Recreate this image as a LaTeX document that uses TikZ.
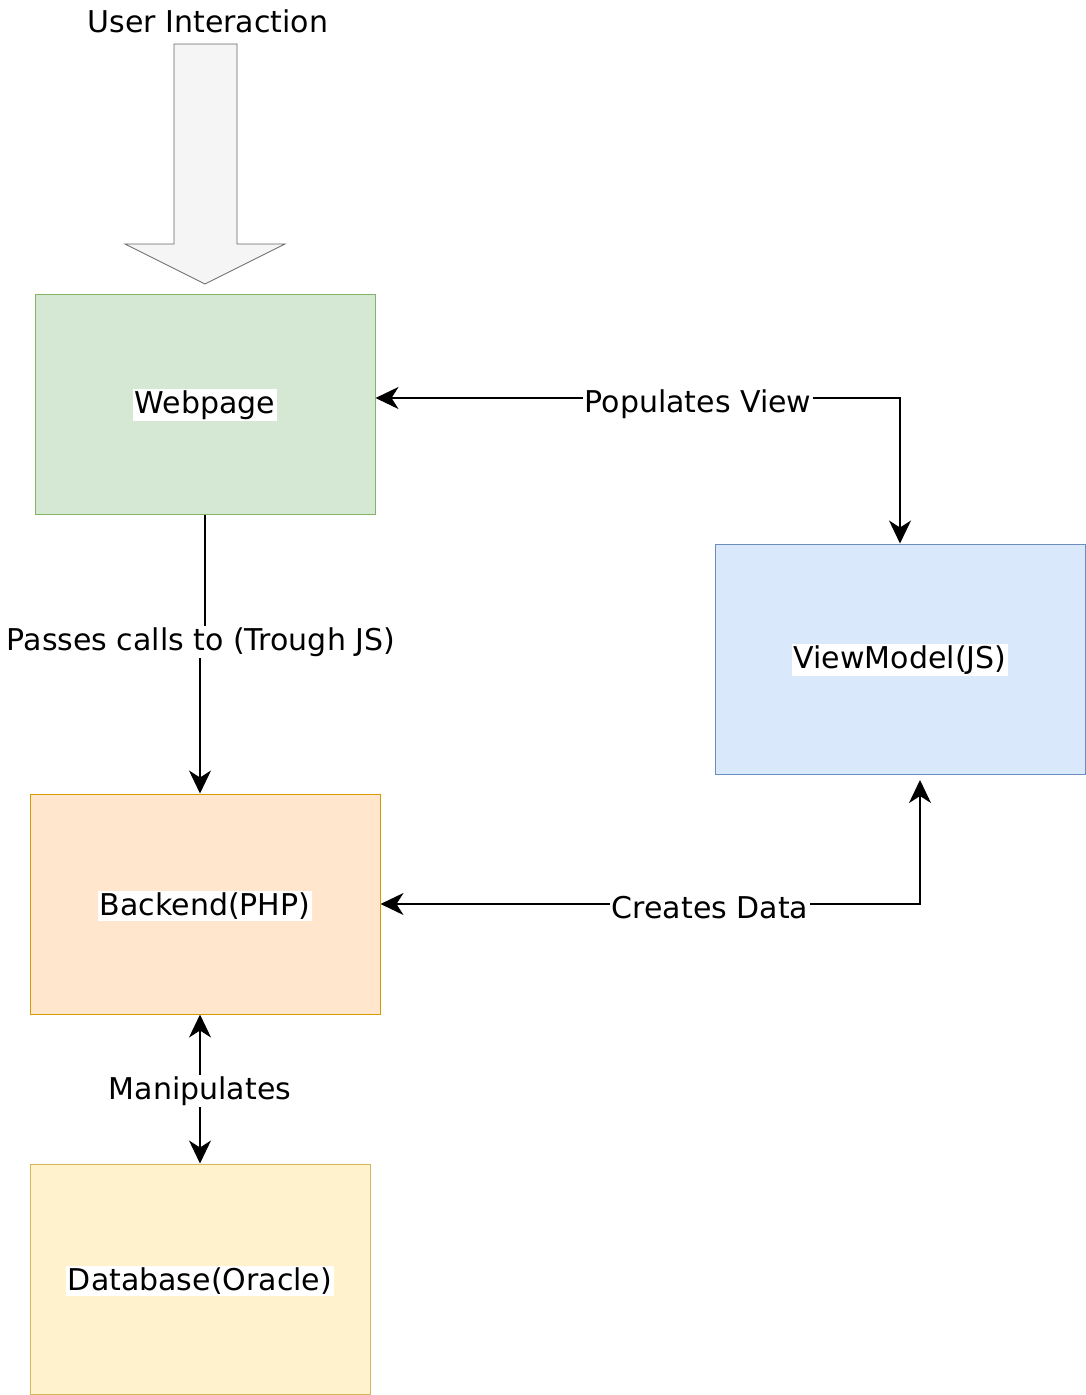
\documentclass[tikz,border=0pt]{standalone}
\usepackage{fontspec}
\setmainfont{DejaVu Sans}
\usetikzlibrary{arrows.meta}
\definecolor{grnF}{HTML}{D5E8D4}\definecolor{grnD}{HTML}{82B366}
\definecolor{bluF}{HTML}{DAE8FC}\definecolor{bluD}{HTML}{6C8EBF}
\definecolor{orgF}{HTML}{FFE6CC}\definecolor{orgD}{HTML}{D79B00}
\definecolor{yelF}{HTML}{FFF2CC}\definecolor{yelD}{HTML}{D6B656}
\definecolor{gryF}{HTML}{F5F5F5}\definecolor{gryD}{HTML}{666666}
\tikzset{
  box/.style={draw, line width=1pt, inner sep=0pt},
  lbl/.style={fill=white, inner sep=1.5pt, font=\fontsize{30}{36}\selectfont},
  conn/.style={line width=1.5pt, arrows={-Stealth[length=23pt,width=22pt,inset=7pt]}},
  conn2/.style={line width=1.5pt, arrows={Stealth[length=23pt,width=22pt,inset=7pt]-Stealth[length=23pt,width=22pt,inset=7pt]}}
}
\begin{document}
\begin{tikzpicture}[x=1pt,y=-1pt]
\useasboundingbox[fill=white] (0,0) rectangle (1086,1395);
% big arrow
\draw[fill=gryF, draw=gryD, line width=0.8pt] (174,44) -- (237,44) -- (237,244) -- (285,244) -- (205,284) -- (125,244) -- (174,244) -- cycle;
\node[font=\fontsize{30}{36}\selectfont, inner sep=0pt] (ui) at (208,21) {User Interaction};
% boxes
\node[box, fill=grnF, draw=grnD, minimum width=340pt, minimum height=220pt] (web) at (205,404) {};
\node[box, fill=bluF, draw=bluD, minimum width=370pt, minimum height=230pt] (vm) at (900,659) {};
\node[box, fill=orgF, draw=orgD, minimum width=350pt, minimum height=220pt] (be) at (205,904) {};
\node[box, fill=yelF, draw=yelD, minimum width=340pt, minimum height=230pt] (db) at (200,1279) {};
\node[lbl] (webt) at (205,405) {Webpage};
\node[lbl] (vmt) at (900,660) {ViewModel(JS)};
\node[lbl] (bet) at (205,906) {Backend(PHP)};
\node[lbl] (dbt) at (200,1281) {Database(Oracle)};
% connectors
\coordinate (j) at (200,640);
\coordinate (wp) at (375,398);
\coordinate (vmb) at (920,780);
\draw[line width=1.5pt] (web.south) -- (205,640) -- (j);
\draw[conn] (j) -- (be.north -| j);
\node[lbl] (l1) at (201,642) {Passes calls to (Trough JS)};
\draw[conn2] (web.east |- wp) -| (vm.north);
\node[lbl] (l2) at (698,404) {Populates View};
\draw[conn2] (be.east) -| (vmb);
\node[lbl] (l3) at (710,908) {Creates Data};
\draw[conn2] (be.south -| db.north) -- (db.north);
\node[lbl] (l4) at (200,1091) {Manipulates};
\end{tikzpicture}
\end{document}
